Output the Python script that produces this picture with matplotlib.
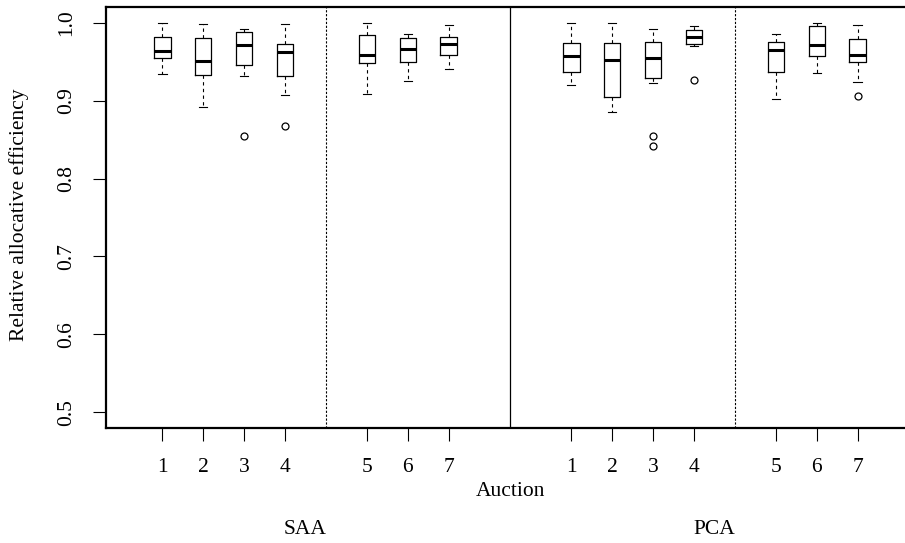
import matplotlib.pyplot as plt
from matplotlib.transforms import blended_transform_factory

# Box statistics per auction: SAA 1-7 followed by PCA 1-7
whislo = [0.934, 0.892, 0.931, 0.9075, 0.908, 0.925, 0.940,
          0.920, 0.885, 0.923, 0.970, 0.9015, 0.9357, 0.9234]
q1 = [0.9542, 0.933, 0.946, 0.931, 0.948, 0.949, 0.958,
      0.9366, 0.904, 0.9285, 0.972, 0.936, 0.9576, 0.950]
med = [0.9636, 0.951, 0.971, 0.962, 0.959, 0.966, 0.973,
       0.957, 0.952, 0.955, 0.982, 0.9645, 0.971, 0.958]
q3 = [0.982, 0.980, 0.988, 0.973, 0.984, 0.980, 0.982,
      0.9735, 0.974, 0.975, 0.990, 0.9756, 0.9954, 0.9787]
whishi = [1.0, 0.998, 0.992, 0.998, 1.0, 0.986, 0.997,
          1.0, 1.0, 0.992, 0.995, 0.985, 1.0, 0.9967]
fliers = [[], [], [0.854], [0.868], [], [], [],
          [], [], [0.855, 0.842], [0.927], [], [], [0.9054]]

auction_labels = ["1", "2", "3", "4", "5", "6", "7"] * 2
positions = [1, 2, 3, 4, 6, 7, 8, 11, 12, 13, 14, 16, 17, 18]
groups = ["SAA", "PCA"]

plt.rcParams['font.family'] = ['Liberation Serif', 'DejaVu Serif']

fig = plt.figure(figsize=(9.05, 5.43), dpi=100)
ax = fig.add_axes([106 / 905, 115 / 543, 808 / 905, 421 / 543])

stats = []
for i in range(len(med)):
    stats.append({
        "whislo": whislo[i], "q1": q1[i], "med": med[i],
        "q3": q3[i], "whishi": whishi[i], "fliers": fliers[i],
    })

ax.bxp(stats, positions=positions, widths=0.4,
       boxprops=dict(color="black", linewidth=0.9),
       medianprops=dict(color="black", linewidth=2.2),
       whiskerprops=dict(color="black", linewidth=0.8, linestyle=(0, (3, 3))),
       capprops=dict(color="black", linewidth=0.8),
       flierprops=dict(marker="o", markersize=5, markerfacecolor="none",
                       markeredgecolor="black", markeredgewidth=0.9),
       capwidths=0.2)

# separators between auction blocks and between formats
ax.axvline(5, color="black", linewidth=0.8, linestyle=(0, (2, 1.5)))
ax.axvline(15, color="black", linewidth=0.8, linestyle=(0, (2, 1.5)))
ax.axvline(9.5, color="black", linewidth=0.9)

ax.set_xlim(-0.38, 19.38)
ax.set_ylim(0.48, 1.02)
ax.set_yticks([0.5, 0.6, 0.7, 0.8, 0.9, 1.0])
ax.set_yticklabels(["0.5", "0.6", "0.7", "0.8", "0.9", "1.0"],
                   rotation=90, va="center")
ax.set_xticks(positions)
ax.set_xticklabels(auction_labels)
ax.tick_params(axis="both", direction="out", length=9.5, width=0.8,
               labelsize=15.5, pad=12)

for side in ["top", "bottom", "left"]:
    ax.spines[side].set_linewidth(1.6)
ax.spines["right"].set_visible(False)

trans = blended_transform_factory(ax.transData, fig.transFigure)
ax.text(9.5, 1 - 491 / 543, "Auction", transform=trans,
        ha="center", va="center", fontsize=15.5)
ax.text(4.5, 1 - 530 / 543, groups[0], transform=trans,
        ha="center", va="center", fontsize=15.5)
ax.text(14.5, 1 - 530 / 543, groups[1], transform=trans,
        ha="center", va="center", fontsize=15.5)

fig.text(19 / 905, 1 - 215 / 543, "Relative allocative efficiency",
         rotation=90, ha="center", va="center", fontsize=15.5)

fig.savefig("out.png", dpi=100)
